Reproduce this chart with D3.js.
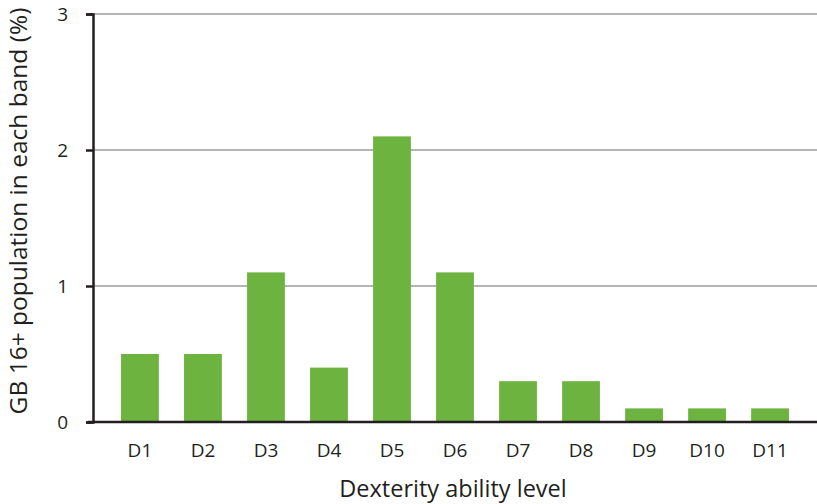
<!DOCTYPE html>
<html><head><meta charset="utf-8">
<script src="https://cdn.jsdelivr.net/npm/d3@7"></script>
<style>body{margin:0;background:#fff}svg{display:block}text{font-family:"Open Sans",sans-serif;fill:#231f20}</style>
</head><body><svg id="c" width="817" height="504"></svg>
<script>
const categories = ["D1","D2","D3","D4","D5","D6","D7","D8","D9","D10","D11"];
const values = [0.5,0.5,1.1,0.4,2.1,1.1,0.3,0.3,0.1,0.1,0.1];
const yTicks = [0,1,2,3];
const xTitle = "Dexterity ability level";
const yTitle = "GB 16+ population in each band (%)";

(function(){
const svg = d3.select("#c");
const mL = 93, mR = 817, mT = 14, mB = 422;
const x = d3.scaleBand().domain(categories).range([mL, mR]).paddingInner(0.4).paddingOuter(0.445);
const y = d3.scaleLinear().domain([0,3]).range([mB, mT]);

svg.append("g").selectAll("line").data(yTicks.filter(d=>d>0)).join("line")
  .attr("x1", mL).attr("x2", mR).attr("y1", d=>y(d)).attr("y2", d=>y(d))
  .attr("stroke", "#9d9d9d").attr("stroke-width", 1.5);

svg.append("g").selectAll("rect").data(values).join("rect")
  .attr("x", (d,i)=>x(categories[i])).attr("width", x.bandwidth())
  .attr("y", d=>y(d)).attr("height", d=>y(0)-y(d))
  .attr("fill", "#6db33f");

const ya = svg.append("g").attr("transform", `translate(${mL},0)`)
  .call(d3.axisLeft(y).tickValues(yTicks).tickFormat(d3.format("d")).tickSize(7).tickPadding(18));
ya.select(".domain").attr("stroke", "#231f20").attr("stroke-width", 2.5);
ya.selectAll(".tick line").attr("stroke", "#231f20").attr("stroke-width", 2.5);
ya.selectAll("text").style("font-size", "19px").attr("fill", "#231f20");

const xa = svg.append("g").attr("transform", `translate(0,${mB})`)
  .call(d3.axisBottom(x).tickSize(0).tickPadding(22));
xa.select(".domain").remove();
xa.append("line").attr("x1", mL-5).attr("x2", mR).attr("stroke", "#231f20").attr("stroke-width", 2.5);
xa.selectAll("text").style("font-size", "19px").attr("fill", "#231f20");

svg.append("text").attr("x", 453).attr("y", 497).attr("text-anchor","middle")
  .style("font-size","23.5px").text(xTitle);
svg.append("text").attr("transform", `translate(27,211) rotate(-90)`).attr("text-anchor","middle")
  .style("font-size","24.5px").text(yTitle);
})();
</script></body></html>
